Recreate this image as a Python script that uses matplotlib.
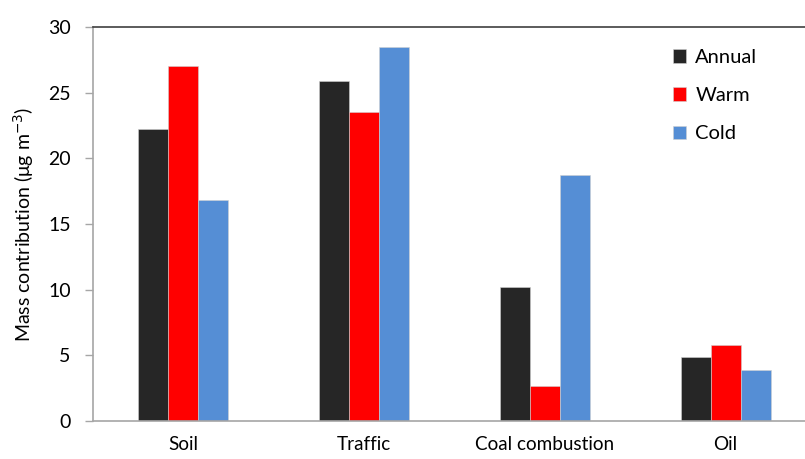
import matplotlib
matplotlib.use("Agg")
import matplotlib.pyplot as plt
import numpy as np

categories = ["Soil", "Traffic", "Coal combustion", "Oil"]
annual = [22.2, 25.9, 10.2, 4.85]
warm = [27.0, 23.5, 2.7, 5.75]
cold = [16.85, 28.5, 18.7, 3.9]
series_names = ["Annual", "Warm", "Cold"]
colors = ["#262626", "#FF0000", "#558ED5"]

plt.rcParams['font.family'] = ['Lato', 'DejaVu Sans']

W, H = 805, 459
fig = plt.figure(figsize=(W / 100, H / 100), dpi=100)
left, right, top, bottom = 93, 816, 27, 421
ax = fig.add_axes([left / W, 1 - bottom / H, (right - left) / W, (bottom - top) / H])

x = np.arange(len(categories))
bw = 30 / 180.3
handles = []
for i, (vals, name, c) in enumerate(zip([annual, warm, cold], series_names, colors)):
    b = ax.bar(x + (i - 1) * bw, vals, width=bw, color=c, label=name,
               edgecolor='#d0d0d0', linewidth=0.4)
    handles.append(b)

ax.set_xlim(-0.5, len(categories) - 0.5)
ax.set_ylim(0, 30)
ax.set_yticks([0, 5, 10, 15, 20, 25, 30])
ax.set_xticks(x)
ax.set_xticklabels(categories)
ax.tick_params(axis='x', length=0, pad=11, labelsize=13.6, colors='#000000')
ax.tick_params(axis='y', length=6, width=1, color='#a6a6a6', pad=10, labelsize=14, direction='out')

for s in ['left', 'bottom']:
    ax.spines[s].set_color('#a6a6a6')
    ax.spines[s].set_linewidth(1.2)
ax.spines['top'].set_color('#404040')
ax.spines['top'].set_linewidth(1.2)
ax.spines['right'].set_visible(False)

ax.set_ylabel("Mass contribution (μg m$^{-3}$)", fontsize=14)
ax.yaxis.set_label_coords(-0.079, 0.5)

leg = fig.legend(handles=handles, labels=series_names, loc='upper left',
                 bbox_to_anchor=(665 / W, 1 - 41 / H), frameon=False,
                 fontsize=14.5, handlelength=0.65, handleheight=0.65,
                 handletextpad=0.45, labelspacing=1.05, borderaxespad=0)

fig.savefig("out.png", dpi=100)
